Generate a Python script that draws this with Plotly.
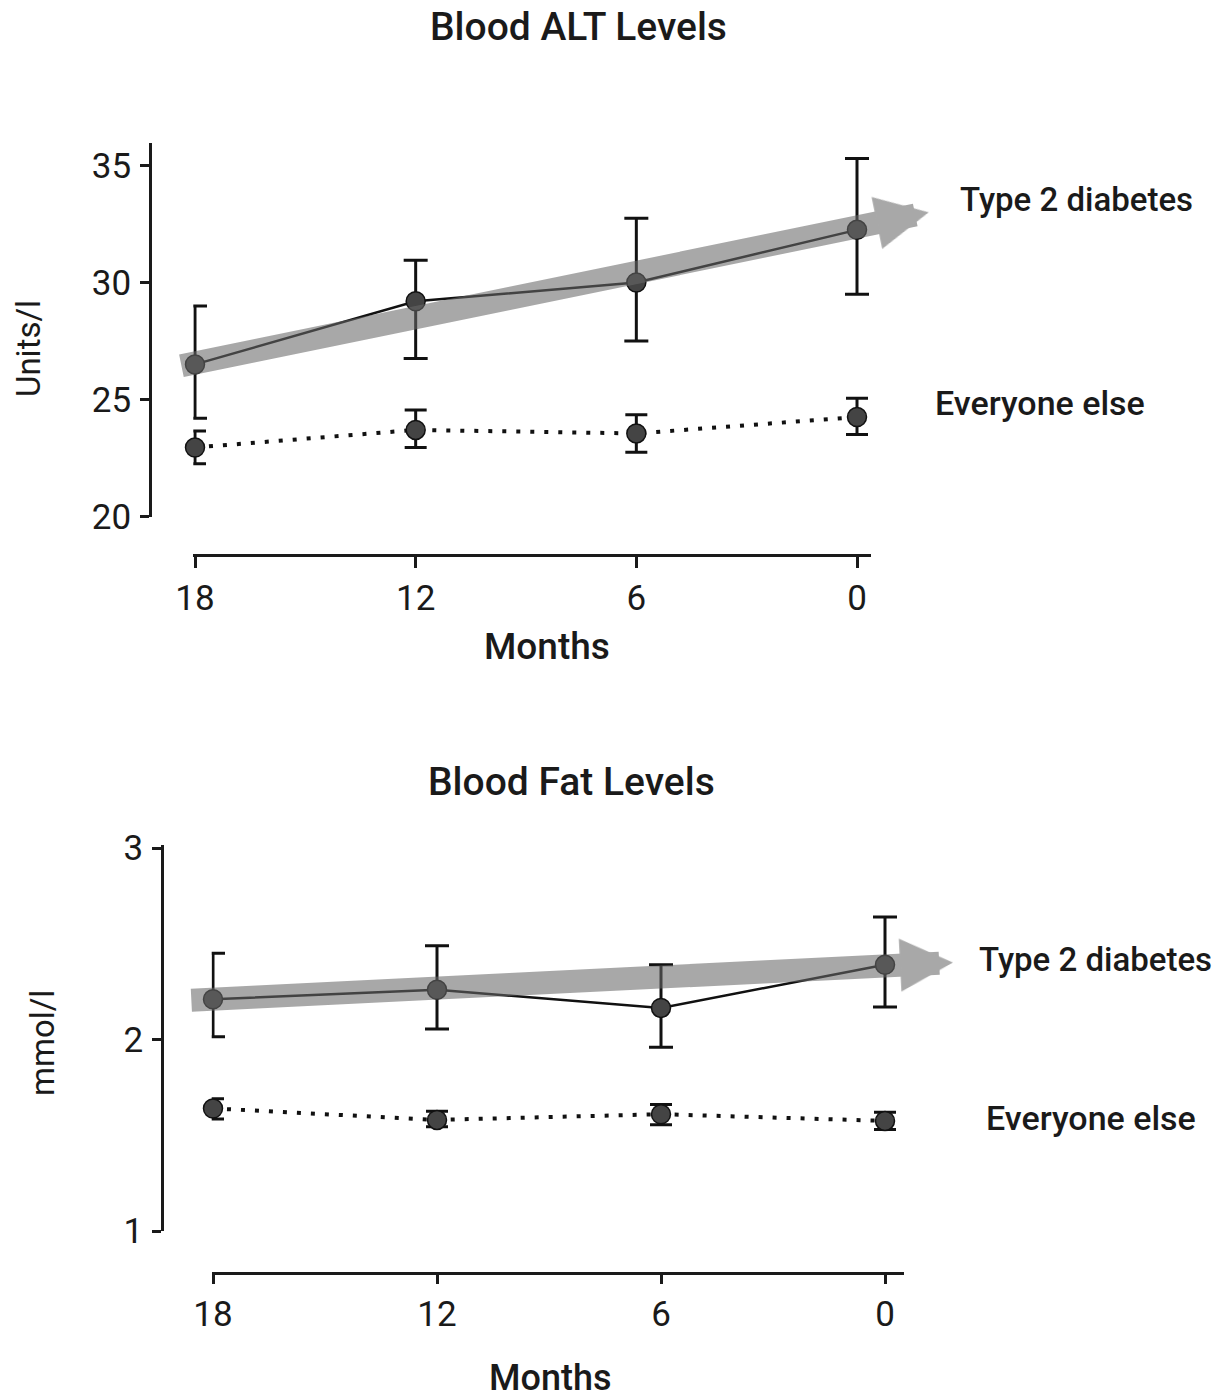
import plotly.graph_objects as go

# ---------------- data ----------------
months = [18, 12, 6, 0]
month_labels = ["18", "12", "6", "0"]

alt_ticks = [20, 25, 30, 35]
alt_t2 = [26.5, 29.2, 30.0, 32.25]
alt_t2_hi = [29.0, 30.95, 32.75, 35.3]
alt_t2_lo = [24.2, 26.75, 27.5, 29.5]
alt_else = [22.95, 23.7, 23.55, 24.25]
alt_else_hi = [23.65, 24.55, 24.35, 25.05]
alt_else_lo = [22.25, 22.95, 22.75, 23.5]
alt_trend_months = [18.41, -1.95]
alt_trend_vals = [26.43, 33.0]

fat_ticks = [1, 2, 3]
fat_t2 = [2.21, 2.26, 2.165, 2.39]
fat_t2_hi = [2.45, 2.49, 2.39, 2.64]
fat_t2_lo = [2.015, 2.055, 1.96, 2.17]
fat_else = [1.64, 1.58, 1.61, 1.575]
fat_else_hi = [1.69, 1.625, 1.66, 1.62]
fat_else_lo = [1.585, 1.545, 1.555, 1.53]
fat_trend_months = [18.62, -1.82]
fat_trend_vals = [2.204, 2.402]

labels_t2 = "Type 2 diabetes"
labels_else = "Everyone else"

# ---------------- layout geometry (pixels) ----------------
W, H = 1224, 1399
FONT = "Roboto"
INK = "#1a1a1a"


def fx(px):
    return px / W


def fy(py):
    return 1 - py / H


def err(vals, hi, lo):
    return ([h - v for h, v in zip(hi, vals)], [v - l for v, l in zip(vals, lo)])


fig = go.Figure()


def add_panel(xa, ya, vals_t2, hi_t2, lo_t2, vals_e, hi_e, lo_e):
    up, dn = err(vals_t2, hi_t2, lo_t2)
    fig.add_trace(go.Scatter(
        x=months, y=vals_t2, xaxis=xa, yaxis=ya, mode="lines+markers",
        line=dict(color="#111111", width=2.5),
        marker=dict(size=19, color="#444444", line=dict(color="#111111", width=1.5)),
        error_y=dict(type="data", array=up, arrayminus=dn, color="#111111",
                     thickness=3, width=12),
        cliponaxis=False, showlegend=False, hoverinfo="skip"))
    up, dn = err(vals_e, hi_e, lo_e)
    fig.add_trace(go.Scatter(
        x=months, y=vals_e, xaxis=xa, yaxis=ya, mode="lines+markers",
        line=dict(color="#111111", width=4, dash="4px,10px"),
        marker=dict(size=19, color="#444444", line=dict(color="#111111", width=1.5)),
        error_y=dict(type="data", array=up, arrayminus=dn, color="#111111",
                     thickness=3, width=11),
        cliponaxis=False, showlegend=False, hoverinfo="skip"))


add_panel("x", "y", alt_t2, alt_t2_hi, alt_t2_lo, alt_else, alt_else_hi, alt_else_lo)
add_panel("x2", "y2", fat_t2, fat_t2_hi, fat_t2_lo, fat_else, fat_else_hi, fat_else_lo)

# axis geometry
top = dict(x18=195.0, x0=857.0, xl=193.3, xr=870.7, xline=555.0,
           y_lo_px=516.5, y_hi_px=143.0, y_lo=20, ppu=23.4, yline=150.0)
bot = dict(x18=213.0, x0=885.0, xl=211.7, xr=904.0, xline=1273.0,
           y_lo_px=1231.0, y_hi_px=845.0, y_lo=1, ppu=191.5, yline=162.0)


def xrange_for(g, left_px, right_px):
    ppm = (g["x0"] - g["x18"]) / 18.0
    return [18 + (g["x18"] - left_px) / ppm, 0 - (right_px - g["x0"]) / ppm]


def yrange_for(g):
    return [g["y_lo"], g["y_lo"] + (g["y_lo_px"] - g["y_hi_px"]) / g["ppu"]]


tickfont = dict(family=FONT, size=35, color=INK)

common_x = dict(showline=True, linecolor=INK, linewidth=2.6, ticks="outside",
                tickwidth=2.6, tickcolor=INK, tickvals=months,
                ticktext=month_labels, tickfont=tickfont, showgrid=False,
                zeroline=False, anchor="free", ticklabelstandoff=0, automargin=False)
common_y = dict(showline=True, linecolor=INK, linewidth=2.6, ticks="outside",
                ticklen=9, tickwidth=2.6, tickcolor=INK, tickfont=tickfont,
                showgrid=False, zeroline=False, anchor="free", ticklabelstandoff=2,
                automargin=False)

hidden = dict(visible=False, showgrid=False, zeroline=False, fixedrange=True,
              automargin=False)

fig.update_layout(
    width=W, height=H, autosize=False,
    margin=dict(l=0, r=0, t=0, b=0, pad=0),
    plot_bgcolor="rgba(0,0,0,0)", paper_bgcolor="white",
    font=dict(family=FONT, color=INK),
    xaxis=dict(common_x, domain=[fx(top["xl"]), fx(top["xr"])], ticklen=11,
               range=xrange_for(top, top["xl"], top["xr"]), position=fy(top["xline"])),
    yaxis=dict(common_y, domain=[fy(top["y_lo_px"]), fy(top["y_hi_px"])],
               range=yrange_for(top), tickvals=alt_ticks, position=fx(top["yline"])),
    xaxis2=dict(common_x, domain=[fx(bot["xl"]), fx(bot["xr"])], ticklen=9,
                range=xrange_for(bot, bot["xl"], bot["xr"]), position=fy(bot["xline"])),
    yaxis2=dict(common_y, domain=[fy(bot["y_lo_px"]), fy(bot["y_hi_px"])],
                range=yrange_for(bot), tickvals=fat_ticks, position=fx(bot["yline"])),
    # wide hidden axes used only to place the trend arrows
    xaxis3=dict(hidden, domain=[0, 1], range=xrange_for(top, 0, W), anchor="y"),
    xaxis4=dict(hidden, domain=[0, 1], range=xrange_for(bot, 0, W), anchor="y2"),
)

arrow_color = "rgba(105,105,105,0.58)"
for xr, yr, tm, tv in [("x3", "y", alt_trend_months, alt_trend_vals),
                       ("x4", "y2", fat_trend_months, fat_trend_vals)]:
    fig.add_annotation(x=tm[1], y=tv[1], ax=tm[0], ay=tv[0], xref=xr, yref=yr,
                       axref=xr, ayref=yr, text="", showarrow=True, arrowhead=2,
                       arrowsize=0.46, arrowwidth=23, arrowcolor=arrow_color, standoff=0)

# titles and labels
def txt(text, x, y, size, weight=400, xanchor="center", angle=0):
    fig.add_annotation(text=text, x=fx(x), y=fy(y), xref="paper", yref="paper",
                       showarrow=False, xanchor=xanchor, yanchor="middle",
                       textangle=angle,
                       font=dict(family=FONT, size=size, color=INK, weight=weight))


txt("Blood ALT Levels", 578, 27, 39, 500)
txt("Blood Fat Levels", 571, 782, 39, 500)
txt("Units/l", 28, 348, 33, 400, angle=-90)
txt("mmol/l", 42, 1043, 33, 400, angle=-90)
txt("Months", 547, 647, 37, 500)
txt("Months", 550, 1378, 36, 500)
txt(labels_t2, 958, 200, 33, 500, xanchor="left")
txt(labels_else, 933, 403, 34, 500, xanchor="left")
txt(labels_t2, 977, 959, 33, 500, xanchor="left")
txt(labels_else, 984, 1118, 34, 500, xanchor="left")

fig.write_html("out.html", post_script="document.body.style.margin='0px';",
               config={"displayModeBar": False})
